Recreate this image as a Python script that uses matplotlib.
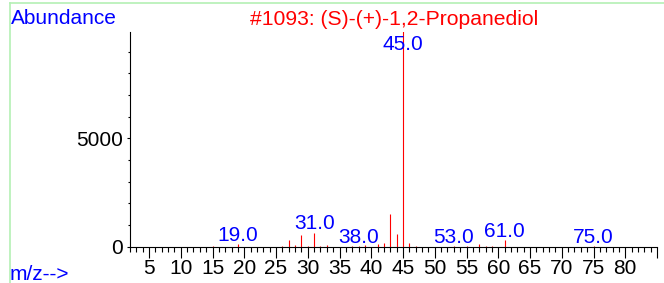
import matplotlib
matplotlib.use("Agg")
import matplotlib.pyplot as plt
from matplotlib.lines import Line2D
from matplotlib.ticker import MultipleLocator

plt.rcParams['font.family'] = ['Liberation Sans', 'DejaVu Sans']

# mass spectrum peaks
mz = [15, 19, 26, 27, 28, 29, 30, 31, 32, 33, 37, 38, 39, 41, 42, 43, 44,
      45, 46, 47, 53, 55, 57, 58, 59, 61, 75]
abundance = [30, 110, 30, 330, 60, 520, 40, 650, 30, 60, 20, 10, 80, 120,
             160, 1530, 570, 9999, 190, 40, 10, 30, 120, 30, 40, 310, 10]
# peaks that carry a blue m/z label
labelled = [19, 31, 38, 45, 53, 61, 75]
title = "#1093: (S)-(+)-1,2-Propanediol"
ymax = 9920

fig = plt.figure(figsize=(6.64, 2.83), dpi=100)
ax = fig.add_axes([130 / 664, 36.3 / 283, 527 / 664, 215 / 283])

ax.vlines(mz, 0, abundance, color="red", linewidth=0.8)
ax.set_xlim(2, 85)
ax.set_ylim(0, ymax)

# blue labels above the peaks, the tallest one goes inside the frame
for x, y in zip(mz, abundance):
    if x not in labelled:
        continue
    if y > 0.9 * ymax:
        ax.annotate(f"{x:.1f}", (x, ymax), xytext=(0, -13.4),
                    textcoords="offset points", ha="center", va="baseline",
                    color="blue", fontsize=15, annotation_clip=False)
    else:
        ax.annotate(f"{x:.1f}", (x, y), xytext=(0, 2.5),
                    textcoords="offset points", ha="center", va="baseline",
                    color="blue", fontsize=15, annotation_clip=False)

for s in ("top", "right"):
    ax.spines[s].set_visible(False)
ax.spines["left"].set_linewidth(0.8)
ax.spines["bottom"].set_linewidth(0.8)

ax.set_xticks(range(5, 86, 5))
ax.set_xticklabels([str(v) if v <= 80 else "" for v in range(5, 86, 5)])
ax.xaxis.set_minor_locator(MultipleLocator(1))
ax.set_yticks([0, 5000])
ax.yaxis.set_minor_locator(MultipleLocator(1000))

ax.tick_params(axis="x", which="major", direction="out", length=8,
               width=0.8, pad=1, labelsize=15)
ax.tick_params(axis="x", which="minor", direction="out", length=3.6,
               width=0.8)
ax.tick_params(axis="y", which="major", direction="out", length=2.4,
               width=0.8, pad=2.4, labelsize=15)
ax.tick_params(axis="y", which="minor", direction="out", length=1.4,
               width=0.8)

fig.text(11 / 664, 1 - 24 / 283, "Abundance", color="blue", fontsize=15,
         ha="left", va="baseline")
fig.text(394 / 664, 1 - 25 / 283, title, color="red", fontsize=15.2,
         ha="center", va="baseline")
fig.text(10 / 664, 1 - 279.5 / 283, "m/z-->", color="blue", fontsize=15,
         ha="left", va="baseline")

# light green frame round the plot
green = "#b4f0b4"
fig.add_artist(Line2D([9.5 / 664, 9.5 / 664], [0, 1 - 3 / 283],
                      transform=fig.transFigure, color=green, linewidth=1.2))
fig.add_artist(Line2D([9.5 / 664, 1], [1 - 3 / 283, 1 - 3 / 283],
                      transform=fig.transFigure, color=green, linewidth=1.2))

fig.savefig("out.png", dpi=100)
